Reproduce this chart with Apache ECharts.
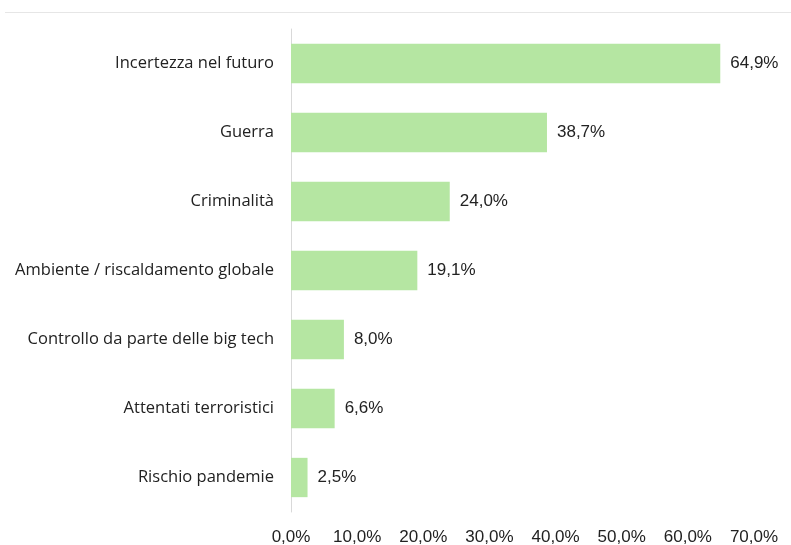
<!DOCTYPE html>
<html>
<head>
<meta charset="utf-8">
<script src="https://cdn.jsdelivr.net/npm/echarts@6/dist/echarts.min.js"></script>
<style>
  html, body { margin: 0; padding: 0; background: #fff; }
  #chart { width: 791px; height: 545px; }
</style>
</head>
<body>
<div id="chart"></div>
<script>
const categories = [
  'Incertezza nel futuro',
  'Guerra',
  'Criminalità',
  'Ambiente / riscaldamento globale',
  'Controllo da parte delle big tech',
  'Attentati terroristici',
  'Rischio pandemie'
]
const values = [64.9, 38.7, 24.0, 19.1, 8.0, 6.6, 2.5]

const fmt = v => v.toFixed(1).replace('.', ',') + '%'

const chart = echarts.init(document.getElementById('chart'))
chart.setOption({
  animation: false,
  graphic: [{
    type: 'line',
    shape: { x1: 5, y1: 12.5, x2: 791, y2: 12.5 },
    style: { stroke: '#e6e6e6', lineWidth: 1 }
  }],
  grid: { left: 291, right: 37, top: 29, bottom: 33, outerBoundsMode: 'none' },
  xAxis: {
    type: 'value',
    min: 0,
    max: 70,
    interval: 10,
    splitLine: { show: false },
    axisLine: { show: false },
    axisTick: { show: false },
    axisLabel: {
      formatter: v => fmt(v),
      color: '#222',
      fontFamily: 'Liberation Sans',
      fontSize: 17,
      margin: 17
    }
  },
  yAxis: {
    type: 'category',
    inverse: true,
    data: categories,
    axisLine: { show: true, lineStyle: { color: '#d9d9d9', width: 1 } },
    axisTick: { show: false },
    axisLabel: {
      color: '#222',
      fontFamily: 'Open Sans',
      fontSize: 16.5,
      margin: 17
    }
  },
  series: [{
    type: 'bar',
    data: values,
    barCategoryGap: '43%',
    itemStyle: { color: '#b5e6a2' },
    label: {
      show: true,
      position: 'right',
      distance: 10,
      formatter: p => fmt(p.value),
      color: '#222',
      fontFamily: 'Liberation Sans',
      fontSize: 17
    }
  }]
})
</script>
</body>
</html>
